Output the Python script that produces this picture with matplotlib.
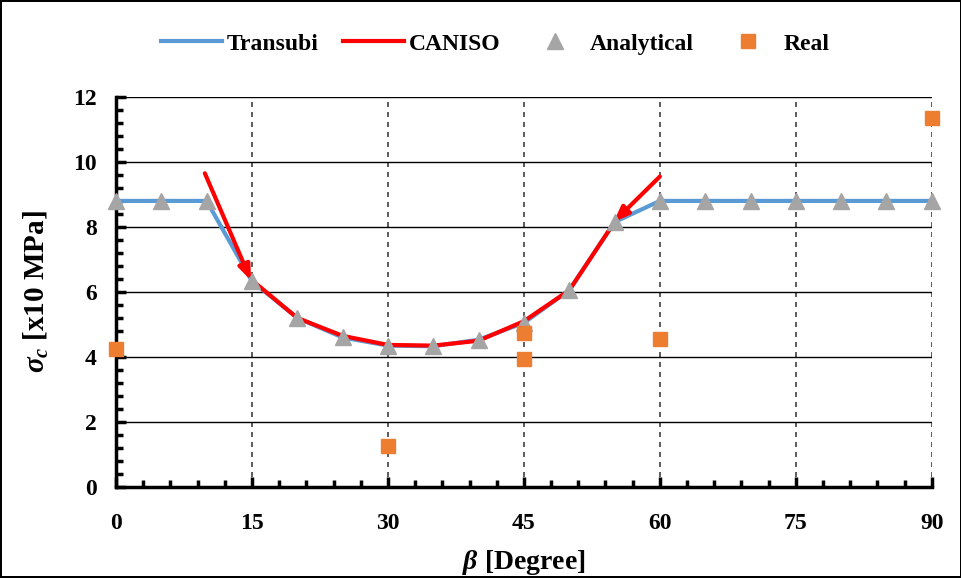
import matplotlib

matplotlib.use("Agg")
import matplotlib.pyplot as plt
from matplotlib.ticker import MultipleLocator

plt.rcParams["font.family"] = ["Liberation Serif", "DejaVu Serif"]
plt.rcParams["font.weight"] = "bold"
plt.rcParams["mathtext.fontset"] = "custom"
plt.rcParams["mathtext.rm"] = "Liberation Serif:bold"
plt.rcParams["mathtext.it"] = "Liberation Serif:italic:bold"

BLUE = "#5B9BD5"
RED = "#FF0000"
GRAY = "#A5A5A5"
ORANGE = "#ED7D31"

beta = [0, 5, 10, 15, 20, 25, 30, 35, 40, 45, 50, 55, 60, 65, 70, 75, 80, 85, 90]
transubi = [8.8, 8.8, 8.8, 6.33, 5.2, 4.6, 4.35, 4.33, 4.53, 5.05, 6.05, 8.15,
            8.8, 8.8, 8.8, 8.8, 8.8, 8.8, 8.8]
analytical = transubi

caniso_beta = [15, 20, 25, 30, 35, 40, 45, 50, 55]
caniso = [6.36, 5.2, 4.65, 4.37, 4.35, 4.5, 5.1, 6.05, 8.15]

# arrows drawn in red toward the CANISO curve
arrow_start = [(9.8, 9.65), (60.0, 9.55)]
arrow_end = [(14.9, 6.35), (54.9, 8.15)]

real_beta = [0, 30, 45, 45, 60, 90]
real = [4.25, 1.25, 4.75, 3.95, 4.55, 11.35]

fig = plt.figure(figsize=(9.62, 5.78), dpi=100)
fig.patch.set_edgecolor("black")
fig.patch.set_linewidth(1.5)
ax = fig.add_axes([0.1206, 0.1574, 0.848, 0.675])

ax.plot(beta, transubi, color=BLUE, lw=3, label="Transubi", zorder=3)
ax.plot(caniso_beta, caniso, color=RED, lw=3, label="CANISO", zorder=4)
for s, e in zip(arrow_start, arrow_end):
    ax.annotate("", xy=e, xytext=s, zorder=5,
                arrowprops=dict(arrowstyle="-|>,head_length=0.9,head_width=0.35",
                                color=RED, lw=3, shrinkA=0, shrinkB=0))
ax.plot(beta, analytical, ls="none", marker="^", ms=11, color=GRAY,
        label="Analytical", zorder=5, clip_on=False)
ax.plot(real_beta, real, ls="none", marker="s", ms=10, color=ORANGE,
        label="Real", zorder=6, clip_on=False)

ax.set_xlim(0, 90)
ax.set_ylim(0, 12)
ax.xaxis.set_major_locator(MultipleLocator(15))
ax.xaxis.set_minor_locator(MultipleLocator(3))
ax.yaxis.set_major_locator(MultipleLocator(2))
ax.yaxis.set_minor_locator(MultipleLocator(0.4))

ax.grid(axis="y", which="major", color="black", lw=1)
ax.grid(axis="x", which="major", color="#404040", lw=1.2, ls=(0, (3, 3)))
ax.set_axisbelow(True)

for side in ("top", "right"):
    ax.spines[side].set_visible(False)
for side in ("left", "bottom"):
    ax.spines[side].set_linewidth(2.5)

ax.tick_params(which="both", direction="in", width=2.5, labelsize=17, color="black")
ax.tick_params(which="major", length=7)
ax.tick_params(which="minor", length=5)
ax.tick_params(axis="y", pad=14)
ax.tick_params(axis="x", pad=19)
for lab in ax.get_xticklabels() + ax.get_yticklabels():
    lab.set_fontweight("bold")

ax.set_xlabel(r"$\beta$ [Degree]", fontsize=20, fontweight="bold", labelpad=10)
ax.set_ylabel(r"$\sigma_c$ [x10 MPa]", fontsize=21, fontweight="bold", labelpad=16)

fig.legend(loc="center", bbox_to_anchor=(0.515, 0.924), ncol=4, frameon=False,
           prop={"size": 17, "weight": "bold"}, handlelength=2.6,
           columnspacing=1.0, handletextpad=0.2)

fig.savefig("out.png", dpi=100)
plt.close(fig)
